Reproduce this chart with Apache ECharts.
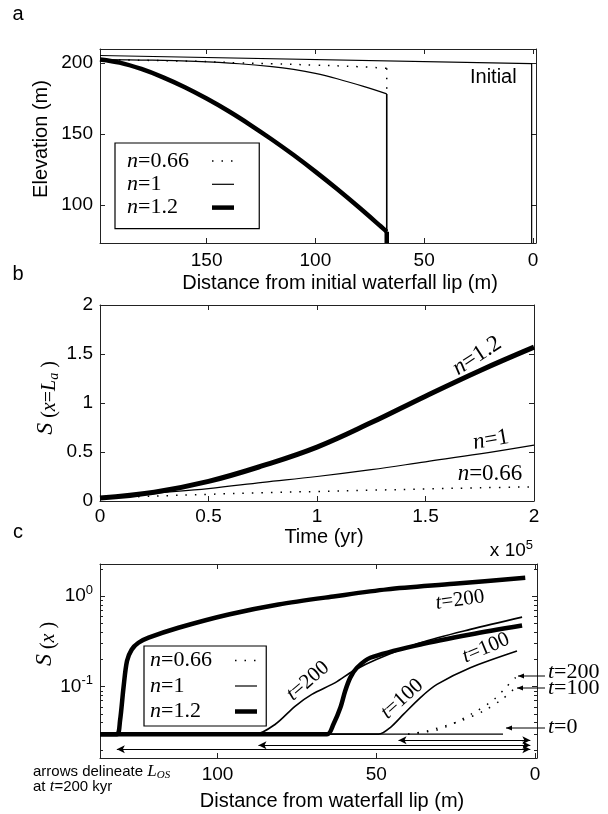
<!DOCTYPE html>
<html><head><meta charset="utf-8">
<script src="https://cdn.jsdelivr.net/npm/echarts@6/dist/echarts.min.js"></script>
<style>html,body{margin:0;padding:0;background:#fff}#c{width:608px;height:814px}</style>
</head><body><div id="c"></div>
<script>
// ---------- Panel a : elevation profiles ----------
const aDistInit = [199, 0.6, 0.6];
const aElevInit = [205.4, 199.7, 73];
const aDistN066 = [199, 155, 135, 120, 100, 80, 67.2];
const aElevN066 = [202.5, 201.3, 200.2, 199.6, 198.6, 197.5, 196.4];
const aDropN066 = [196.4, 182];
const aDistN1 = [199, 175, 155, 135, 120, 110, 100, 90, 77.9, 67.2];
const aElevN1 = [202.5, 202.1, 201.2, 199.6, 197.6, 195.6, 192.8, 189, 183.6, 178.3];
const aDropN1 = [178.3, 73];
const aDistN12 = [199, 190, 180, 170, 160, 150, 140, 130, 120, 110, 100, 90, 80, 70, 67.2];
const aElevN12 = [202.6, 200.4, 195.9, 190, 183, 175, 166.2, 156.5, 146.1, 135.1, 123.4, 111.1, 98.2, 84.8, 81];
const aDropN12 = [81, 73];
const aDropX = [67.2, 67.2];
const aXTicks = [0, 50, 100, 150];
const aYTicks = [100, 150, 200];

// ---------- Panel b : S(x=La) vs time ----------
const bTime = [0, 0.25, 0.5, 0.75, 1, 1.25, 1.5, 1.75, 2];
const bN066 = [0.03, 0.05, 0.068, 0.085, 0.097, 0.11, 0.123, 0.135, 0.145];
const bN1 = [0.03, 0.08, 0.127, 0.19, 0.25, 0.32, 0.4, 0.48, 0.57];
const bN12 = [0.03, 0.09, 0.2, 0.36, 0.55, 0.8, 1.07, 1.33, 1.57];
const bTicks = [0, 0.5, 1, 1.5, 2];

// ---------- Panel c : S(x) vs distance ----------
const cN12t200X = [137, 131.7, 130.7, 129.6, 128.5, 127, 124.9, 121.7, 112.3, 96.5, 80.8, 62.9, 46.6, 25.6, 3.1];
const cN12t200Y = [0.0299, 0.0299, 0.0419, 0.0977, 0.192, 0.258, 0.306, 0.348, 0.448, 0.628, 0.81, 1.0, 1.19, 1.37, 1.6];
const cN12t100X = [137, 65.5, 63.5, 61.3, 59.8, 58.2, 56.1, 51.9, 36.1, 20.4, 4.1];
const cN12t100Y = [0.0299, 0.0299, 0.0385, 0.0589, 0.0897, 0.126, 0.162, 0.209, 0.293, 0.378, 0.475];
const cN1t200X = [137, 88.1, 81.8, 75.5, 70.3, 62.9, 57.2, 50, 36.1, 20.4, 4.1];
const cN1t200Y = [0.0299, 0.0299, 0.0385, 0.0612, 0.0824, 0.111, 0.15, 0.2, 0.306, 0.43, 0.587];
const cN1t100X = [137, 49.3, 45.6, 41.4, 36.1, 30.9, 20.4, 5.7];
const cN1t100Y = [0.0299, 0.0299, 0.0354, 0.0497, 0.0759, 0.106, 0.162, 0.248];
const cT0X = [137, 10.1];
const cT0Y = [0.0299, 0.0299];
const cN066t100X = [40, 34, 23.5, 16.2, 10.4, 6.2];
const cN066t100Y = [0.0299, 0.0325, 0.0419, 0.054, 0.0726, 0.0977];
const cN066t200X = [40, 30, 20, 13, 9, 5.7];
const cN066t200Y = [0.0299, 0.034, 0.05, 0.072, 0.1, 0.131];
const cXTicks = [0, 50, 100];
const cMinorTicks = [0.02, 0.03, 0.04, 0.05, 0.06, 0.07, 0.08, 0.09, 0.2, 0.3, 0.4, 0.5, 0.6, 0.7, 0.8, 0.9, 2];
const losStart = [131.7, 87.1, 43];
const losLevel = [0.0204, 0.0226, 0.0256];
const losEnd = 1.5;

const legendNames = ['n=0.66', 'n=1', 'n=1.2'];

// ---------- styling ----------
const SANS = '"Liberation Sans", Arial, sans-serif';
const SERIF = '"Liberation Serif", "Times New Roman", serif';
const AX = '#222';
const THIN = 1.2, THICK_A = 4.5, THICK_B = 5, THICK_C = 4.5;
const DOT = [1.5, 8];

function zip(xs, ys) { return xs.map((x, i) => [x, ys[i]]); }
function line(name, xi, yi, xs, ys, width, dotted, smooth) {
  return {
    type: 'line', name: name, xAxisIndex: xi, yAxisIndex: yi, data: zip(xs, ys),
    symbol: 'none', showSymbol: false, animation: false, silent: true, z: 3,
    smooth: smooth || false,
    lineStyle: { color: '#000', width: width, type: dotted ? DOT : 'solid', cap: 'butt', join: 'round' },
    itemStyle: { color: '#000' }
  };
}
function axis(grid, pos, o) {
  const labels = (pos === 'bottom' || pos === 'left');
  const ax = {
    gridIndex: grid, position: pos, type: o.type || 'value', min: o.min, max: o.max, inverse: !!o.inverse,
    axisLine: { show: o.line !== false, onZero: false, lineStyle: { color: AX, width: 1 } },
    axisTick: { show: true, inside: true, length: o.tickLen || 5, lineStyle: { color: AX, width: 1 } },
    axisLabel: { show: labels && !o.noLabel, color: '#000', fontFamily: SANS, fontSize: 19, margin: o.margin || 7 },
    splitLine: { show: false }, minorTick: { show: false }
  };
  if (o.ticks) { ax.axisTick.customValues = o.ticks; ax.axisLabel.customValues = o.ticks; }
  if (o.fmt) ax.axisLabel.formatter = o.fmt;
  if (o.rich) ax.axisLabel.rich = o.rich;
  if (o.hideEdge) { ax.axisLabel.showMinLabel = false; ax.axisLabel.showMaxLabel = false; }
  return ax;
}
const logMin = 0.0163, logMax = 2.27;
const logFmt = function (v) {
  const e = Math.log10(v);
  if (Math.abs(e - Math.round(e)) > 1e-6) return '';
  return '10{s|' + Math.round(e) + '}';
};
const supRich = { s: { fontFamily: SANS, fontSize: 13, padding: [0, 0, 12, 0], color: '#000' } };

const xAxes = [
  axis(0, 'bottom', { min: -1.4, max: 199, inverse: true, ticks: aXTicks, margin: 8 }),
  axis(0, 'top', { min: -1.4, max: 199, inverse: true, ticks: aXTicks }),
  axis(1, 'bottom', { min: 0, max: 2, ticks: bTicks, margin: 6 }),
  axis(1, 'top', { min: 0, max: 2, ticks: bTicks }),
  axis(2, 'bottom', { min: -0.6, max: 137, inverse: true, ticks: cXTicks, margin: 7 }),
  axis(2, 'top', { min: -0.6, max: 137, inverse: true, ticks: cXTicks })
];
const yAxes = [
  axis(0, 'left', { min: 73, max: 210, ticks: aYTicks }),
  axis(0, 'right', { min: 73, max: 210, ticks: aYTicks }),
  axis(1, 'left', { min: 0, max: 2, ticks: bTicks }),
  axis(1, 'right', { min: 0, max: 2, ticks: bTicks }),
  axis(2, 'left', { type: 'log', min: logMin, max: logMax, fmt: logFmt, rich: supRich, hideEdge: true }),
  axis(2, 'right', { type: 'log', min: logMin, max: logMax }),
  axis(2, 'left', { min: Math.log10(logMin), max: Math.log10(logMax), ticks: cMinorTicks.map(Math.log10), tickLen: 3, line: false, noLabel: true }),
  axis(2, 'right', { min: Math.log10(logMin), max: Math.log10(logMax), ticks: cMinorTicks.map(Math.log10), tickLen: 3, line: false, noLabel: true })
];
yAxes[4].logBase = 10; yAxes[5].logBase = 10;
yAxes[5].axisLabel.show = false;

const losSeries = line('n=1', 4, 4, cT0X, cT0Y, THIN, false);
losSeries.markLine = {
  silent: true, animation: false, symbol: ['arrow', 'arrow'], symbolSize: [6, 8],
  lineStyle: { color: '#000', width: 1, type: 'solid' }, label: { show: false },
  data: losStart.map((s, i) => [{ coord: [s, losLevel[i]] }, { coord: [losEnd, losLevel[i]] }])
};

const series = [
  // panel a
  line('n=0.66', 0, 0, aDistN066, aElevN066, 1.5, true, 0.4),
  line('n=1', 0, 0, aDistN1, aElevN1, THIN, false, 0.4),
  line('n=1.2', 0, 0, aDistN12, aElevN12, THICK_A, false, 0.3),
  line('n=0.66', 0, 0, aDropX, aDropN066, 1.5, true),
  line('n=1', 0, 0, aDropX, aDropN1, 1.6, false),
  line('n=1.2', 0, 0, aDropX, aDropN12, THICK_A, false),
  line('Initial', 0, 0, aDistInit, aElevInit, THIN, false),
  // panel b
  line('b n=0.66', 2, 2, bTime, bN066, 1.5, true, 0.4),
  line('b n=1', 2, 2, bTime, bN1, THIN, false, 0.4),
  line('b n=1.2', 2, 2, bTime, bN12, THICK_B, false, 0.4),
  // panel c
  line('n=1.2', 4, 4, cN12t200X, cN12t200Y, THICK_C, false, 0.3),
  line('n=1.2', 4, 4, cN12t100X, cN12t100Y, THICK_C, false, 0.3),
  line('n=1', 4, 4, cN1t200X, cN1t200Y, 1.6, false, 0.3),
  line('n=1', 4, 4, cN1t100X, cN1t100Y, 1.6, false, 0.3),
  losSeries,
  line('n=0.66', 4, 4, cN066t100X, cN066t100Y, 1.5, true, 0.3),
  line('n=0.66', 4, 4, cN066t200X, cN066t200Y, 1.5, true, 0.3)
];

const legRich = {
  i: { fontFamily: SERIF, fontStyle: 'italic', fontSize: 22, align: 'left', color: '#000' },
  r: { fontFamily: SERIF, fontSize: 22, align: 'left', color: '#000' }
};
function legend(left, top, padding, gap) {
  return {
    show: true, orient: 'vertical', align: 'right', left: left, top: top, padding: padding, itemGap: gap,
    itemWidth: 22, itemHeight: 14, selectedMode: false, data: legendNames,
    borderColor: '#000', borderWidth: 1.2, backgroundColor: '#fff', z: 5,
    itemStyle: { opacity: 0 },
    lineStyle: { width: 'inherit' },
    formatter: n => '{i|n}{r|' + n.slice(1) + '}',
    textStyle: { fontFamily: SERIF, fontSize: 22, lineHeight: 22, width: 80, color: '#000', rich: legRich }
  };
}

function txt(text, x, y, style, rotDeg) {
  return {
    type: 'text', x: x, y: y, rotation: (rotDeg || 0) * Math.PI / 180, silent: true, z: 10,
    style: Object.assign({ text: text, fill: '#000', fontFamily: SANS, fontSize: 20, align: 'center', verticalAlign: 'middle' }, style)
  };
}
const ser = (extra) => Object.assign({ fontFamily: SERIF, fontSize: 21, fill: '#000' }, extra || {});
const nRichB = { i: ser({ fontStyle: 'italic', fontSize: 23 }), r: ser({ fontSize: 23 }) };
const tRich = { i: ser({ fontStyle: 'italic' }), r: ser() };
const tRich22 = { i: ser({ fontStyle: 'italic', fontSize: 22 }), r: ser({ fontSize: 22 }) };

function arrow(x0, x1, y) {
  return [
    { type: 'line', silent: true, z: 10, shape: { x1: x0, y1: y, x2: x1, y2: y }, style: { stroke: '#000', lineWidth: 1 } },
    { type: 'polygon', silent: true, z: 10, shape: { points: [[x1, y], [x1 + 6, y - 2.5], [x1 + 6, y + 2.5]] }, style: { fill: '#000' } }
  ];
}

const graphic = [
  txt('a', 18, 14, { fontSize: 20 }),
  txt('b', 18, 274, { fontSize: 20 }),
  txt('c', 18, 532, { fontSize: 20 }),
  txt('Initial', 470, 77, { align: 'left' }),
  txt('Elevation (m)', 41, 139, {}, 90),
  txt('Distance from initial waterfall lip (m)', 340, 283, {}),
  txt('Time (yr)', 324, 537, {}),
  txt('Distance from waterfall lip (m)', 332, 801, {}),
  txt('{s|S}{p| (}{i|x}{p|=}{i|L}{sub|a}{p| )}', 46, 398, {
    rich: {
      s: ser({ fontStyle: 'italic', fontSize: 24 }),
      p: ser({ fontSize: 20, padding: [8, 0, 0, 0] }),
      i: ser({ fontStyle: 'italic', fontSize: 20, padding: [8, 0, 0, 0] }),
      sub: ser({ fontStyle: 'italic', fontSize: 14, padding: [16, 0, 0, 0] })
    }
  }, 90),
  txt('{s|S}{p| (}{i|x}{p| )}', 45, 644, {
    rich: {
      s: ser({ fontStyle: 'italic', fontSize: 24 }),
      p: ser({ fontSize: 20, padding: [8, 0, 0, 0] }),
      i: ser({ fontStyle: 'italic', fontSize: 20, padding: [8, 0, 0, 0] })
    }
  }, 90),
  txt('{i|n}{r|=1.2}', 477, 356, { rich: nRichB }, 33),
  txt('{i|n}{r|=1}', 491, 440, { rich: nRichB }, 10),
  txt('{i|n}{r|=0.66}', 490, 474, { rich: nRichB }),
  txt('{i|t}{r|=200}', 460, 600, { rich: tRich }, 8),
  txt('{i|t}{r|=100}', 486, 648, { rich: tRich }, 23),
  txt('{i|t}{r|=200}', 308, 681, { rich: tRich }, 41),
  txt('{i|t}{r|=100}', 402, 699, { rich: tRich }, 42),
  txt('{i|t}{r|=200}', 548, 672, { rich: tRich22, align: 'left' }),
  txt('{i|t}{r|=100}', 548, 688, { rich: tRich22, align: 'left' }),
  txt('{i|t}{r|=0}', 548, 727, { rich: tRich22, align: 'left' }),
  txt('{b|x 10}{s|5}', 533, 551, { align: 'right', rich: { b: { fontFamily: SANS, fontSize: 19, fill: '#000' }, s: { fontFamily: SANS, fontSize: 13, padding: [0, 0, 12, 0], fill: '#000' } } }),
  txt('{n|arrows delineate }{L|L}{o|OS}', 33, 772, { align: 'left', rich: { n: { fontFamily: SANS, fontSize: 15, fill: '#000' }, L: ser({ fontStyle: 'italic', fontSize: 17 }), o: ser({ fontStyle: 'italic', fontSize: 11, padding: [6, 0, 0, 0] }) } }),
  txt('{n|at }{t|t}{n|=200 kyr}', 33, 787, { align: 'left', rich: { n: { fontFamily: SANS, fontSize: 15, fill: '#000' }, t: ser({ fontStyle: 'italic', fontSize: 17 }) } })
].concat(arrow(545, 518, 676), arrow(545, 517, 688), arrow(545, 506, 728));

const option = {
  animation: false,
  backgroundColor: '#fff',
  textStyle: { fontFamily: SANS },
  grid: [
    { left: 100, top: 49, width: 436, height: 194, outerBoundsMode: 'none' },
    { left: 100, top: 305, width: 434, height: 196, outerBoundsMode: 'none' },
    { left: 100, top: 564, width: 437, height: 194, outerBoundsMode: 'none' }
  ],
  xAxis: xAxes,
  yAxis: yAxes,
  legend: [
    legend(115, 143, [7, 23, 10, 12], 1.3),
    legend(144, 646, [3.5, 7, 3.5, 6], 3.5)
  ],
  series: series,
  graphic: graphic
};

const chart = echarts.init(document.getElementById('c'), null, { renderer: 'canvas' });
chart.setOption(option);
</script>
</body></html>
